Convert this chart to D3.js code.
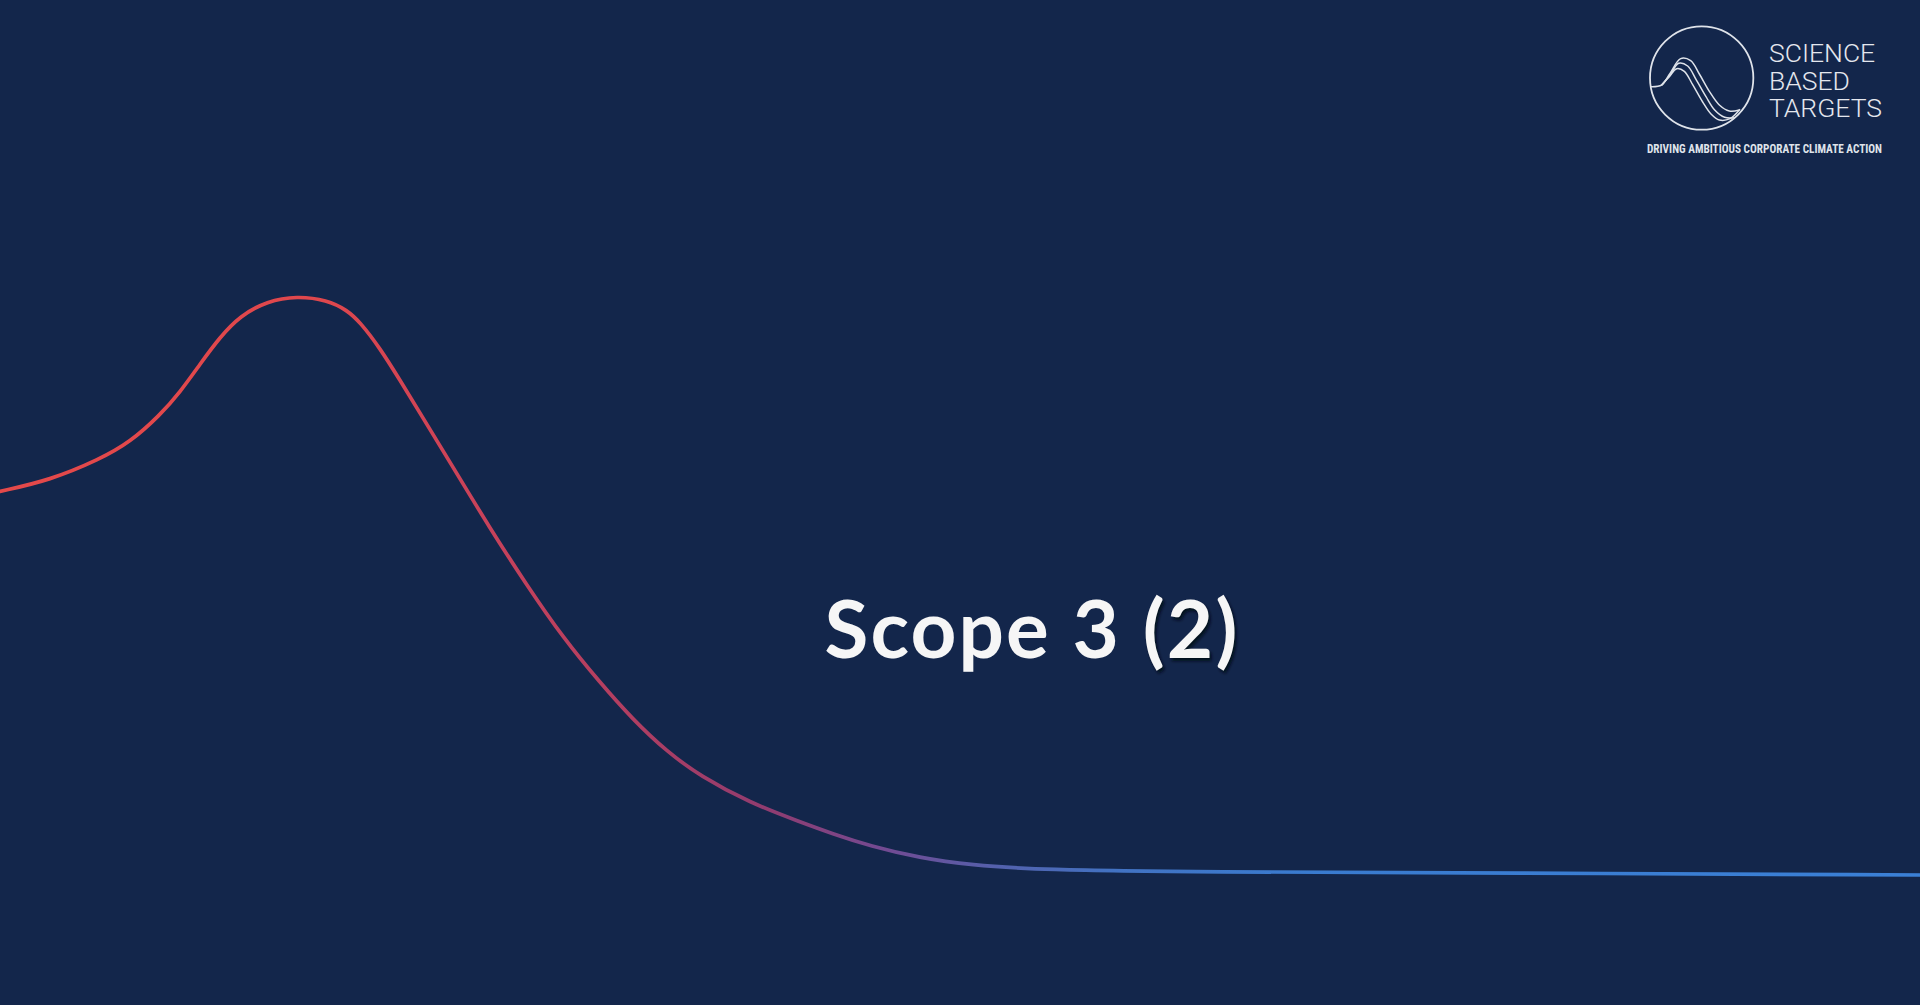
<!DOCTYPE html>
<html>
<head>
<meta charset="utf-8">
<script src="https://cdn.jsdelivr.net/npm/d3@7/dist/d3.min.js"></script>
<style>
  html, body { margin: 0; padding: 0; background: #13264b; overflow: hidden; }
  svg { display: block; }
</style>
</head>
<body>
<svg id="chart" width="1920" height="1005"></svg>
<script>
// ---- Data ----
// time index (0..100 across the frame)
const timeIndex = [0, 2.6, 5.2, 6.77, 8.33, 9.38, 10.42, 11.46, 12.5, 13.91, 15.47, 17.03, 18.07, 18.75, 19.79, 20.83, 21.88, 23.44, 25.52, 27.45, 29.32, 31.25, 32.97, 34.74, 36.46, 39.06, 41.67, 43.39, 45.31, 47.92, 50.52, 54.22, 62.5, 78.13, 100];
// emissions level (peak = 100)
const emissions = [66.26, 68.17, 71.8, 74.74, 79.41, 83.39, 88.24, 92.91, 96.54, 99.13, 100, 99.31, 97.58, 95.5, 91.0, 85.47, 79.76, 71.28, 59.86, 50.0, 41.0, 33.22, 26.82, 21.28, 17.13, 12.46, 9.17, 7.09, 5.02, 2.94, 1.73, 0.87, 0.52, 0.35, 0];

const titleText = "Scope 3";
const titleSuffix = "(2)";
const logoLines = ["SCIENCE", "BASED", "TARGETS"];
const logoTagline = "DRIVING AMBITIOUS CORPORATE CLIMATE ACTION";

// logo strands (logo-local units, 0..360 box)
const strandTopX = [30, 65, 90, 122, 152, 178, 208, 238, 268, 298];
const strandTopY = [200, 195, 160, 116, 122, 162, 214, 255, 273, 270];
const strandMidX = [65, 90, 116, 143, 168, 198, 224, 254, 285];
const strandMidY = [195, 165, 130, 138, 178, 230, 270, 292, 293];
const strandLowX = [65, 88, 110, 133, 158, 188, 213, 238, 270, 300];
const strandLowY = [195, 170, 146, 154, 194, 246, 282, 300, 296, 268];

// ---- Drawing ----
const W = 1920, H = 1005;
const svg = d3.select("#chart");
svg.append("rect").attr("width", W).attr("height", H).attr("fill", "#13264b");

const defs = svg.append("defs");
const grad = defs.append("linearGradient")
  .attr("id", "lineGrad").attr("gradientUnits", "userSpaceOnUse")
  .attr("x1", 0).attr("y1", 0).attr("x2", W).attr("y2", 0);
[[0, "#e4494a"], [0.17, "#df474d"], [0.25, "#c9425a"], [0.33, "#b03e62"], [0.40, "#903c70"],
 [0.46, "#734a92"], [0.52, "#5361ad"], [0.58, "#4272c2"], [0.68, "#3a7bcf"], [1, "#3b80d6"]]
  .forEach(([o, c]) => grad.append("stop").attr("offset", o).attr("stop-color", c));

const shadow = defs.append("filter").attr("id", "tshadow").attr("x", "-20%").attr("y", "-20%").attr("width", "140%").attr("height", "140%");
shadow.append("feGaussianBlur").attr("stdDeviation", 1.5);

const x = d3.scaleLinear().domain([0, 100]).range([0, W]);
const y = d3.scaleLinear().domain([0, 100]).range([875, 296]);

const pts = timeIndex.map((t, i) => [t, emissions[i]]);
const line = d3.line().x(d => x(d[0])).y(d => y(d[1])).curve(d3.curveBasis);

svg.append("path")
  .datum(pts)
  .attr("d", line)
  .attr("fill", "none")
  .attr("stroke", "url(#lineGrad)")
  .attr("stroke-width", 3.7)
  .attr("stroke-linecap", "round");

// ---- Title ----
const tx = 1032, ty = 658;
const titleFont = "Lato, 'Open Sans', sans-serif";
const titleSize = 80;
const targetWidth = 415;

const sh = svg.append("text")
  .attr("x", tx + 2).attr("y", ty + 3)
  .attr("text-anchor", "middle")
  .attr("font-family", titleFont).attr("font-weight", 700).attr("font-size", titleSize)
  .attr("filter", "url(#tshadow)");
sh.append("tspan").attr("fill", "none").text(titleText + " ");
sh.append("tspan").attr("fill", "#050b1a").attr("fill-opacity", 0.9).text(titleSuffix);

const tt = svg.append("text")
  .attr("x", tx).attr("y", ty)
  .attr("text-anchor", "middle")
  .attr("font-family", titleFont).attr("font-weight", 700).attr("font-size", titleSize)
  .attr("fill", "#f6f6f6");
tt.append("tspan").text(titleText + " ");
tt.append("tspan").text(titleSuffix);

// fit title width to the reference by letter spacing
const w0 = tt.node().getComputedTextLength();
const n = (titleText + " " + titleSuffix).length;
const ls = Math.max(-3, Math.min(6, (targetWidth - w0) / n));
tt.attr("letter-spacing", ls);
sh.attr("letter-spacing", ls);

// ---- Logo ----
const logo = svg.append("g");
const lx = d3.scaleLinear().domain([0, 360]).range([1640, 1760]);
const ly = d3.scaleLinear().domain([0, 360]).range([20, 140]);
logo.append("circle")
  .attr("cx", lx(185)).attr("cy", ly(174)).attr("r", lx(340) - lx(185))
  .attr("fill", "none").attr("stroke", "#dfe3ea").attr("stroke-width", 1.8);
const sl = d3.line().x(d => lx(d[0])).y(d => ly(d[1])).curve(d3.curveCatmullRom);
[[strandTopX, strandTopY], [strandMidX, strandMidY], [strandLowX, strandLowY]].forEach(([xs, ys]) => {
  logo.append("path")
    .datum(xs.map((v, i) => [v, ys[i]]))
    .attr("d", sl)
    .attr("fill", "none").attr("stroke", "#dfe3ea").attr("stroke-width", 1.5);
});
const logoText = logo.append("text")
  .attr("x", 1769).attr("y", 62)
  .attr("font-family", "Roboto, 'Liberation Sans', sans-serif")
  .attr("font-weight", 300).attr("font-size", 26.5)
  .attr("fill", "#e4e7ee");
logoLines.forEach((s, i) => {
  logoText.append("tspan")
    .attr("x", 1769).attr("dy", i === 0 ? 0 : 27.5)
    .text(s);
});
logo.append("text")
  .attr("x", 1647).attr("y", 153)
  .attr("font-family", "'Liberation Sans Narrow', 'Roboto Condensed', 'Liberation Sans', sans-serif")
  .attr("font-weight", 700).attr("font-size", 12.5)
  .attr("fill", "#dfe3ea")
  .attr("textLength", 235).attr("lengthAdjust", "spacingAndGlyphs")
  .text(logoTagline);
</script>
</body>
</html>
